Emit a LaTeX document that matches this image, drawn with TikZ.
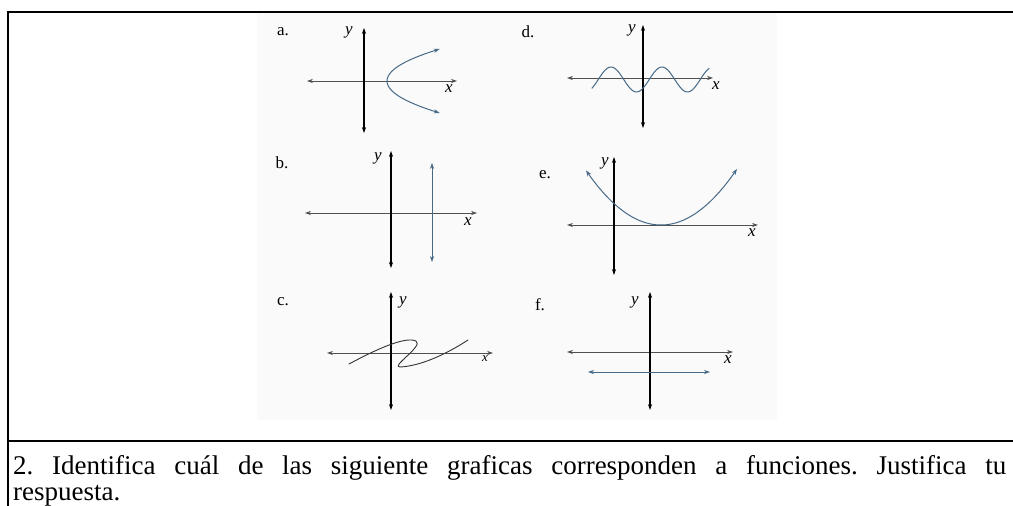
\documentclass[tikz,border=0pt]{standalone}
\usepackage{fontspec}
\setmainfont{Liberation Serif}
\usetikzlibrary{arrows.meta}
\definecolor{curvec}{RGB}{70,105,135}
\definecolor{xaxisc}{RGB}{80,80,80}
\begin{document}
\frenchspacing
\begin{tikzpicture}[x=1pt,y=-1pt,line cap=round,
  >={Stealth[length=6pt,width=4.2pt]},
  yax/.style={black,line width=1.1pt,<->},
  xax/.style={xaxisc,line width=1pt,<->},
  crv/.style={curvec,line width=1pt},
  lbl/.style={font=\fontsize{17}{17}\selectfont,inner sep=0pt},
  var/.style={font=\fontsize{17}{17}\selectfont\itshape,inner sep=0pt},
  frame/.style={line width=1.5pt,black},
  body/.style={anchor=base west,inner sep=0pt,font=\fontsize{27}{27}\selectfont}]
\useasboundingbox (0,0) rectangle (1013,506);
\fill[black!2] (257,13) rectangle (777,420);
\draw[frame] (8,506) -- (8,12) -- (1013,12);
\draw[frame] (8,441) -- (1013,441);
% a
\node[lbl] (la) at (283,32) {a.};
\coordinate (ayt) at (364,28); \coordinate (ayb) at (364,133);
\coordinate (axl) at (307,81); \coordinate (axr) at (457,81);
\draw[xax] (axl) -- (axr);
\draw[yax] (ayb) -- (ayt);
\node[var] (ya) at (349,32) {y};
\node[var] (xa) at (449,89) {x};
\draw[crv,<->] plot[domain=-32:32,samples=50,variable=\t] ({387+0.0515*\t*\t},{81+\t});
% d
\node[lbl] (ld) at (528,32) {d.};
\coordinate (dyt) at (643,25); \coordinate (dyb) at (643,128);
\coordinate (dxl) at (567,78); \coordinate (dxr) at (713,78);
\draw[xax] (dxl) -- (dxr);
\draw[yax] (dyb) -- (dyt);
\node[var] (yd) at (632,30) {y};
\node[var] (xd) at (716,86) {x};
\draw[crv] plot[domain=592:709,samples=90,variable=\t] (\t,{79.5-12.5*cos(7.0588*(\t-611))});
% b
\node[lbl] (lb) at (282,163) {b.};
\coordinate (byt) at (391,151); \coordinate (byb) at (391,268);
\coordinate (bxl) at (305,213); \coordinate (bxr) at (477,213);
\draw[xax] (bxl) -- (bxr);
\draw[yax] (byb) -- (byt);
\node[var] (yb) at (378,158) {y};
\node[var] (xb) at (468,222) {x};
\coordinate (bvt) at (432,163); \coordinate (bvb) at (432,262);
\draw[crv,<->] (bvt) -- (bvb);
% e
\node[lbl] (le) at (545,175) {e.};
\coordinate (eyt) at (614,157); \coordinate (eyb) at (614,275);
\coordinate (exl) at (567,225); \coordinate (exr) at (758,225);
\draw[xax] (exl) -- (exr);
\draw[yax] (eyb) -- (eyt);
\node[var] (ye) at (605,163) {y};
\node[var] (xe) at (752,233) {x};
\draw[crv,<->] plot[domain=586:737,samples=80,variable=\t] (\t,{225-0.0097*(\t-661)*(\t-661)});
% c
\node[lbl] (lc) at (283,302) {c.};
\coordinate (cyt) at (391,292); \coordinate (cyb) at (391,410);
\coordinate (cxl) at (327,353); \coordinate (cxr) at (493,353);
\draw[xax] (cxl) -- (cxr);
\draw[yax] (cyb) -- (cyt);
\node[var] (yc) at (403,302) {y};
\node[var,font=\fontsize{13}{13}\selectfont\itshape] (xc) at (485,359) {x};
\draw[black!80,line width=0.9pt] (349,364) .. controls (375,350) and (405,336) .. (416,341)
  .. controls (424,346) and (390,367) .. (400,367)
  .. controls (420,366) and (445,355) .. (468,340);
% f
\node[lbl] (lf) at (540,305) {f.};
\coordinate (fyt) at (650,292); \coordinate (fyb) at (650,410);
\coordinate (fxl) at (567,352); \coordinate (fxr) at (733,352);
\draw[xax] (fxl) -- (fxr);
\draw[yax] (fyb) -- (fyt);
\node[var] (yf) at (635,302) {y};
\node[var] (xf) at (728,360) {x};
\coordinate (fhl) at (588,372); \coordinate (fhr) at (710,372);
\draw[crv,<->] (fhl) -- (fhr);
% text
\node[body] (t1) at (13,474) {\makebox[993pt][s]{2. Identifica cuál de las siguiente graficas corresponden a funciones. Justifica tu}};
\node[body] (t2) at (13,500) {respuesta.};
\end{tikzpicture}
\end{document}
